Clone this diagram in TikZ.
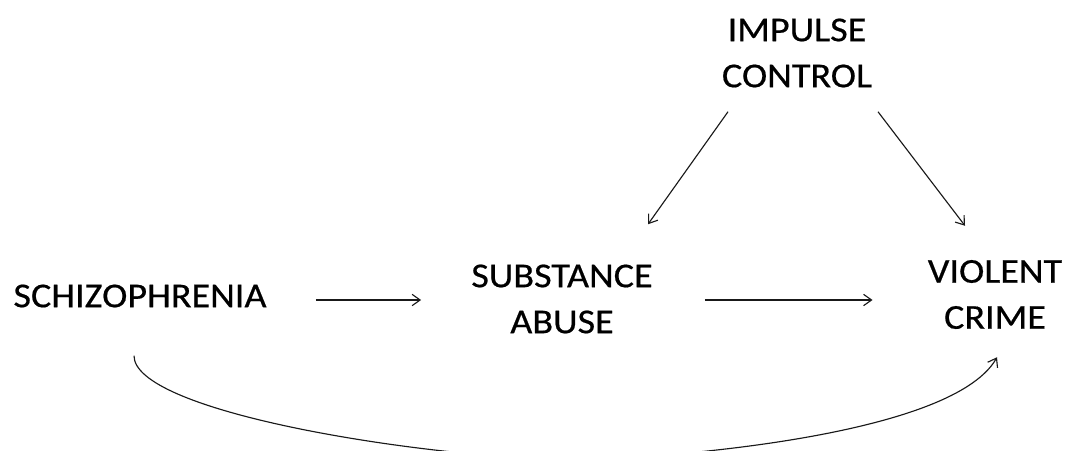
\documentclass[tikz,border=0pt]{standalone}
\usepackage{fontspec}
\setmainfont{Carlito}[FakeStretch=1.09,FakeBold=0.5]
\usepackage{tikz}
\usetikzlibrary{arrows.meta}
\definecolor{myink}{rgb}{0.1,0.1,0.1}

\begin{document}
\begin{tikzpicture}[x=0.75pt,y=-0.75pt,
    lbl/.style={inner sep=0pt,align=center,font=\fontsize{26.25pt}{34.5pt}\selectfont},
    arr/.style={myink,line width=.85pt,-{Straight Barb[length=6pt,width=8.5pt]}}]
  \path[use as bounding box,clip] (0,0) rectangle (1067,450);
  \node[lbl] (schiz)   at (140,296)   {SCHIZOPHRENIA};
  \node[lbl] (subst)   at (562,299)   {SUBSTANCE\\ABUSE};
  \node[lbl] (impulse) at (797,53)    {IMPULSE\\CONTROL};
  \node[lbl] (violent) at (995,294.5) {VIOLENT\\CRIME};
  \draw[arr] ([shift={(49,4)}]schiz.east) -- ([shift={(-50,1)}]subst.west);
  \draw[arr] ([shift={(52,1)}]subst.east) -- ([shift={(-55,5.5)}]violent.west);
  \draw[arr] ([shift={(-69,24)}]impulse.south) -- ([shift={(86,-40)}]subst.north);
  \draw[arr] ([shift={(81,24)}]impulse.south) -- ([shift={(-30,-34)}]violent.north);
  % long way round, runs below the page edge
  \draw[arr] ([shift={(-6,48)}]schiz.south) .. controls (134,410) and (400,455) .. (565,460)
    .. controls (640,460) and (950,440) .. ([shift={(2,28)}]violent.south);
\end{tikzpicture}
\end{document}
